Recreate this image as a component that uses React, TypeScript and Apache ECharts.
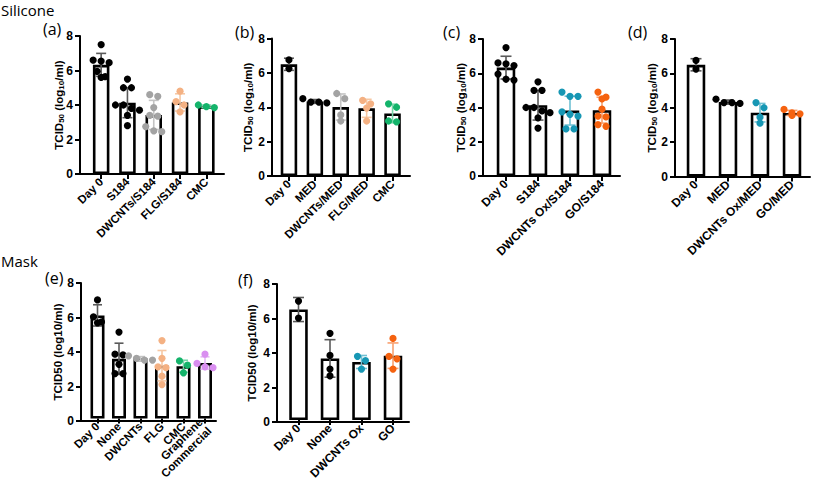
import React, { useEffect, useRef } from 'react';
import * as echarts from 'echarts';

const FONT = 'Arial, "Liberation Sans", sans-serif';

// ---------- categories ----------
const catsA = ['Day 0', 'S184', 'DWCNTs/S184', 'FLG/S184', 'CMC'];
const catsB = ['Day 0', 'MED', 'DWCNTs/MED', 'FLG/MED', 'CMC'];
const catsC = ['Day 0', 'S184', 'DWCNTs Ox/S184', 'GO/S184'];
const catsD = ['Day 0', 'MED', 'DWCNTs Ox/MED', 'GO/MED'];
const catsE = ['Day 0', 'None', 'DWCNTs', 'FLG', 'CMC', 'Graphene\nCommercial'];
const catsF = ['Day 0', 'None', 'DWCNTs Ox', 'GO'];

// ---------- values (log10 TCID50/ml) ----------
const silDay0 = [7.5, 6.6, 6.55, 6.45, 5.95, 5.65, 5.6];
const s184 = [5.5, 5.0, 5.0, 4.0, 4.0, 3.8, 3.7, 3.4, 2.8];
const dwcntsS184 = [4.6, 4.5, 3.85, 3.4, 3.35, 2.75, 2.5, 2.45];
const flgS184 = [4.8, 4.2, 4.0, 3.6];
const cmcS184 = [3.85, 4.0, 3.9];

const medDay0 = [6.75, 6.25];
const med = [4.5, 4.3, 4.25, 4.3];
const dwcntsMed = [4.8, 4.5, 3.55, 3.2];
const flgMed = [4.4, 4.2, 3.95, 3.2];
const cmcMed = [4.2, 4.0, 3.2, 3.15];

const dwcntsOxS184 = [4.9, 4.65, 4.65, 3.75, 3.6, 3.5, 2.75, 2.75];
const goS184 = [4.9, 4.6, 4.5, 3.9, 3.5, 3.45, 3.0, 2.9];

const dwcntsOxMed = [4.3, 4.0, 3.45, 3.1];
const goMed = [3.55, 3.7, 3.9, 3.65];

const maskDay0E = [7.0, 6.0, 5.65, 5.7];
const noneE = [5.1, 3.75, 3.8, 3.2, 2.65, 2.65];
const dwcntsE = [3.7, 3.55, 3.45, 3.45];
const flgE = [4.6, 3.55, 3.05, 3.0, 2.5, 2.0];
const cmcE = [3.4, 3.15, 2.7];
const grapheneE = [3.8, 3.25, 3.05, 3.0];

const maskDay0F = [7.0, 6.0];
const noneF = [5.1, 3.8, 3.0, 2.6];
const dwcntsOxF = [3.75, 3.5, 3.0];
const goF = [4.8, 3.75, 3.6, 3.0];

const yTicks = [0, 2, 4, 6, 8];

// ---------- colours ----------
const BLACK = '#000000';
const GRAY = '#a3a3a3';
const PEACH = '#f4b183';
const GREEN = '#14b46b';
const TEAL = '#1797b4';
const ORANGE = '#f5620f';
const VIOLET = '#d98ef0';
const ERR: Record<string, string> = {
  [BLACK]: '#5a5a5a',
  [GRAY]: '#c4c4c4',
  [PEACH]: '#f6c7a3',
  [GREEN]: '#78d6a9',
  [TEAL]: '#6fc0d3',
  [ORANGE]: '#f8a070',
  [VIOLET]: '#e6b8f5',
};

const mean = (a: number[]) => a.reduce((s, v) => s + v, 0) / a.length;
const sd = (a: number[]) => {
  const m = mean(a);
  return Math.sqrt(a.reduce((s, v) => s + (v - m) * (v - m), 0) / (a.length - 1));
};

// Prism-like row layout of dots (pixel offsets)
function swarmOffsets(vals: number[], pxPerUnit: number, d: number): number[] {
  const idx = vals.map((_, i) => i).sort((a, b) => vals[b] - vals[a]);
  const out = new Array(vals.length).fill(0);
  let row: number[] = [];
  const flush = () => {
    row.forEach((j, k) => {
      out[j] = (k - (row.length - 1) / 2) * d;
    });
    row = [];
  };
  idx.forEach((j) => {
    if (row.length && (vals[row[0]] - vals[j]) * pxPerUnit > d * 0.75) flush();
    row.push(j);
  });
  flush();
  return out;
}

type Panel = {
  cats: string[];
  groups: number[][];
  colors: string[];
  axisX: number;
  innerL: number;
  band: number;
  outerR: number;
  top: number;
  bottom: number;
  barW: number;
  capW: number;
  sub: boolean;
  nameX: number;
  labelSize: number;
};

const panels: Panel[] = [
  { cats: catsA, groups: [silDay0, s184, dwcntsS184, flgS184, cmcS184], colors: [BLACK, BLACK, GRAY, PEACH, GREEN],
    axisX: 80, innerL: 88, band: 26.3, outerR: 224, top: 36, bottom: 174, barW: 16.5, capW: 10, sub: true, nameX: 58, labelSize: 11.5 },
  { cats: catsB, groups: [medDay0, med, dwcntsMed, flgMed, cmcMed], colors: [BLACK, BLACK, GRAY, PEACH, GREEN],
    axisX: 272, innerL: 276, band: 25.9, outerR: 410, top: 38.5, bottom: 176, barW: 16.5, capW: 10, sub: true, nameX: 247, labelSize: 11.5 },
  { cats: catsC, groups: [silDay0, s184, dwcntsOxS184, goS184], colors: [BLACK, BLACK, TEAL, ORANGE],
    axisX: 483, innerL: 490, band: 32, outerR: 620, top: 39, bottom: 176, barW: 18.5, capW: 11, sub: true, nameX: 460, labelSize: 12 },
  { cats: catsD, groups: [medDay0, med, dwcntsOxMed, goMed], colors: [BLACK, BLACK, TEAL, ORANGE],
    axisX: 675, innerL: 680, band: 32, outerR: 810, top: 39, bottom: 176.5, barW: 18.5, capW: 11, sub: true, nameX: 651, labelSize: 12 },
  { cats: catsE, groups: [maskDay0E, noneE, dwcntsE, flgE, cmcE, grapheneE], colors: [BLACK, BLACK, GRAY, PEACH, GREEN, VIOLET],
    axisX: 81, innerL: 86.75, band: 21.5, outerR: 216, top: 283, bottom: 421, barW: 14, capW: 9, sub: false, nameX: 58, labelSize: 11.5 },
  { cats: catsF, groups: [maskDay0F, noneF, dwcntsOxF, goF], colors: [BLACK, BLACK, TEAL, ORANGE],
    axisX: 277, innerL: 282.75, band: 31.5, outerR: 409, top: 284, bottom: 422, barW: 18.5, capW: 11, sub: false, nameX: 252, labelSize: 12 },
];

function buildOption() {
  const grid: any[] = [];
  const xAxis: any[] = [];
  const yAxis: any[] = [];
  const series: any[] = [];
  const graphic: any[] = [];

  panels.forEach((p, k) => {
    const h = p.bottom - p.top;
    const outer = 2 * k;
    const inner = 2 * k + 1;
    grid.push({ left: p.axisX, top: p.top, width: p.outerR - p.axisX, height: h, containLabel: false });
    grid.push({ left: p.innerL, top: p.top, width: p.band * p.cats.length, height: h, containLabel: false });

    xAxis.push({
      type: 'value', gridIndex: outer, min: 0, max: 1,
      axisLine: { show: true, lineStyle: { color: '#000', width: 2 } },
      axisTick: { show: false }, axisLabel: { show: false }, splitLine: { show: false },
    });
    xAxis.push({
      type: 'category', gridIndex: inner, data: p.cats,
      axisLine: { show: false },
      axisTick: { show: true, alignWithLabel: true, length: 5, lineStyle: { color: '#000', width: 2 } },
      axisLabel: { interval: 0, rotate: 45, margin: 6, color: '#000', fontFamily: FONT, fontWeight: 'bold', fontSize: p.labelSize, lineHeight: 12.5 },
      splitLine: { show: false },
    });

    yAxis.push({
      type: 'value', gridIndex: outer, min: 0, max: 8, interval: 2,
      axisLine: { show: true, lineStyle: { color: '#000', width: 2 } },
      axisTick: { show: true, length: 5, lineStyle: { color: '#000', width: 2 } },
      axisLabel: { margin: 7, color: '#000', fontFamily: FONT, fontWeight: 'bold', fontSize: 12,
        customValues: yTicks },
      splitLine: { show: false },
    });
    yAxis.push({ type: 'value', gridIndex: inner, min: 0, max: 8, show: false, splitLine: { show: false } });

    // y-axis title (rotated text, with subscripts in the silicone panels)
    graphic.push({
      type: 'text', x: p.nameX, y: p.top + h / 2, rotation: Math.PI / 2, silent: true,
      style: {
        text: p.sub ? '{n|TCID}{s|50}{n| (log}{s|10}{n|/ml)}' : 'TCID50 (log10/ml)',
        fill: '#000', fontFamily: FONT, fontWeight: 'bold', fontSize: 11.5,
        align: 'center', verticalAlign: 'middle',
        rich: {
          n: { fontFamily: FONT, fontWeight: 'bold', fontSize: 11.5, lineHeight: 14, verticalAlign: 'bottom', fill: '#000' },
          s: { fontFamily: FONT, fontWeight: 'bold', fontSize: 8, lineHeight: 2, verticalAlign: 'bottom', fill: '#000' },
        },
      },
    });

    const means = p.groups.map(mean);
    const sds = p.groups.map(sd);
    const pxPerUnit = h / 8;

    series.push({
      type: 'bar', xAxisIndex: inner, yAxisIndex: inner, barWidth: p.barW, z: 2,
      data: means,
      itemStyle: { color: '#ffffff', borderColor: '#000', borderWidth: 2.6 },
      silent: true,
    });

    const colors = p.colors;
    const capW = p.capW;
    series.push({
      type: 'custom', xAxisIndex: inner, yAxisIndex: inner, z: 3, clip: false, silent: true,
      data: means.map((m, i) => [i, m, sds[i]]),
      renderItem: (params: any, api: any) => {
        const i = api.value(0);
        const m = api.value(1);
        const s = api.value(2);
        const t = api.coord([i, m + s]);
        const b = api.coord([i, m - s]);
        const stroke = ERR[colors[i]] || '#666';
        const st = { stroke, lineWidth: 1.6 };
        return {
          type: 'group',
          children: [
            { type: 'line', shape: { x1: t[0], y1: t[1], x2: b[0], y2: b[1] }, style: st },
            { type: 'line', shape: { x1: t[0] - capW / 2, y1: t[1], x2: t[0] + capW / 2, y2: t[1] }, style: st },
            { type: 'line', shape: { x1: b[0] - capW / 2, y1: b[1], x2: b[0] + capW / 2, y2: b[1] }, style: st },
          ],
        };
      },
    });

    const pts: number[][] = [];
    p.groups.forEach((g, i) => {
      const offs = swarmOffsets(g, pxPerUnit, 8);
      g.forEach((v, j) => pts.push([i, v, offs[j]]));
    });
    series.push({
      type: 'custom', xAxisIndex: inner, yAxisIndex: inner, z: 4, clip: false, silent: true,
      data: pts,
      renderItem: (params: any, api: any) => {
        const i = api.value(0);
        const c = api.coord([i, api.value(1)]);
        return {
          type: 'circle',
          shape: { cx: c[0] + api.value(2), cy: c[1], r: 3.6 },
          style: { fill: colors[i] },
        };
      },
    });
  });

  const txt = (text: string, left: number, top: number, size: number) => ({
    type: 'text', left, top, silent: true,
    style: { text, fill: '#000', fontFamily: '"Open Sans", "Liberation Sans", sans-serif', fontSize: size },
  });

  graphic.push(
    txt('Silicone', 1, 2, 15),
    txt('(a)', 43, 21, 16),
    txt('(b)', 235, 24, 16),
    txt('(c)', 443, 24, 16),
    txt('(d)', 628, 24, 16),
    txt('Mask', 1, 253, 15),
    txt('(e)', 45, 270, 16),
    txt('(f)', 238, 272, 16),
  );

  return {
    animation: false,
    backgroundColor: '#ffffff',
    grid, xAxis, yAxis, series,
    graphic,
  };
}

export default function App() {
  const ref = useRef<HTMLDivElement>(null);
  useEffect(() => {
    if (!ref.current) return;
    const chart = echarts.init(ref.current, undefined, { renderer: 'svg' });
    chart.setOption(buildOption() as any);
    return () => chart.dispose();
  }, []);
  return (
    <div
      ref={ref}
      style={{ position: 'fixed', left: 0, top: 0, width: 817, height: 482, background: '#fff' }}
    />
  );
}
